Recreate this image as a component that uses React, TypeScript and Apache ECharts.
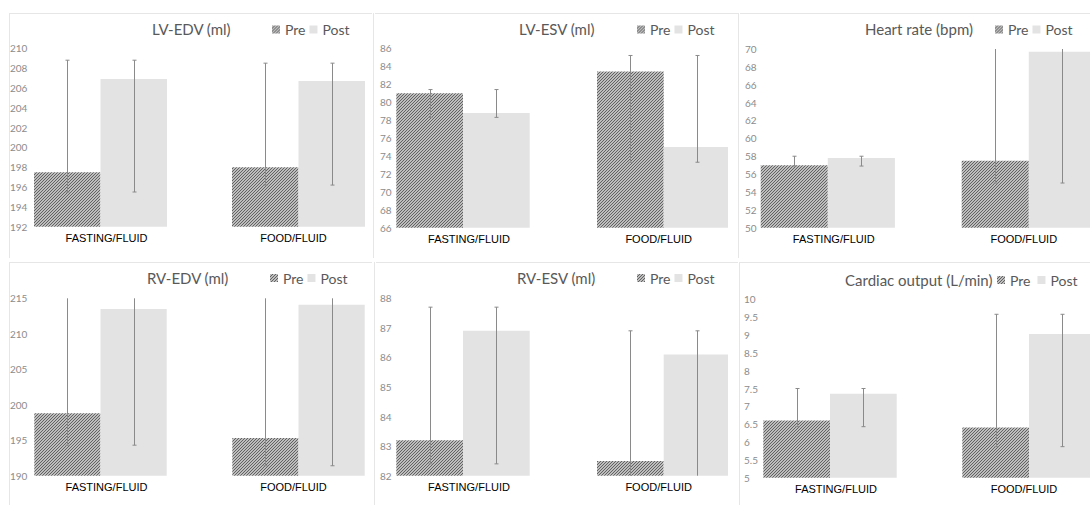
import React, { useEffect, useRef } from 'react';
import * as echarts from 'echarts';

// ---------- data ----------
const categories = ['FASTING/FLUID', 'FOOD/FLUID'];
const seriesNames = ['Pre', 'Post'];

const lvEdvTitle = 'LV-EDV (ml)';
const lvEdvAxis = [192, 210, 2];
const lvEdvPre = [197.5, 198.0];
const lvEdvPost = [206.9, 206.7];
const lvEdvPreErr = [[195.5, 208.8], [196.2, 208.5]];
const lvEdvPostErr = [[195.5, 208.8], [196.2, 208.5]];

const lvEsvTitle = 'LV-ESV (ml)';
const lvEsvAxis = [66, 86, 2];
const lvEsvPre = [81.0, 83.4];
const lvEsvPost = [78.8, 75.0];
const lvEsvPreErr = [[78.3, 81.4], [73.3, 85.2]];
const lvEsvPostErr = [[78.3, 81.4], [73.3, 85.2]];

const hrTitle = 'Heart rate (bpm)';
const hrAxis = [50, 70, 2];
const hrPre = [57.0, 57.5];
const hrPost = [57.8, 69.7];
const hrPreErr = [[56.9, 58.0], [55.0, 71.0]];
const hrPostErr = [[56.9, 58.0], [55.0, 71.0]];

const rvEdvTitle = 'RV-EDV (ml)';
const rvEdvAxis = [190, 215, 5];
const rvEdvPre = [198.8, 195.3];
const rvEdvPost = [213.5, 214.1];
const rvEdvPreErr = [[194.3, 216.0], [191.4, 216.0]];
const rvEdvPostErr = [[194.3, 216.0], [191.4, 216.0]];

const rvEsvTitle = 'RV-ESV (ml)';
const rvEsvAxis = [82, 88, 1];
const rvEsvPre = [83.2, 82.5];
const rvEsvPost = [86.9, 86.1];
const rvEsvPreErr = [[82.4, 87.7], [81.5, 86.9]];
const rvEsvPostErr = [[82.4, 87.7], [81.5, 86.9]];

const coTitle = 'Cardiac output (L/min)';
const coAxis = [5, 10, 0.5];
const coPre = [6.6, 6.41];
const coPost = [7.35, 9.03];
const coPreErr = [[6.43, 7.5], [5.87, 9.58]];
const coPostErr = [[6.43, 7.5], [5.87, 9.58]];

// ---------- layout (absolute page px) ----------
type Layout = {
  clip: { x: number; y: number; w: number; h: number };
  firstBar: number; spacing: number; bw: number;
  axisTop: number; axisBottom: number; labelX: number;
  titleX: number; titleCY: number; legendX: number; legendPostX: number; legendCY: number;
};

const layouts: Layout[] = [
  { clip: { x: 10, y: 14, w: 356, h: 244 }, firstBar: 34, spacing: 198, bw: 66.5, axisTop: 48.3, axisBottom: 226.7, labelX: 10, titleX: 152, titleCY: 30.7, legendX: 272, legendPostX: 312, legendCY: 30.5 },
  { clip: { x: 374, y: 14, w: 354, h: 244 }, firstBar: 396.3, spacing: 200.7, bw: 66.7, axisTop: 48.3, axisBottom: 227.7, labelX: 380, titleX: 519, titleCY: 30.7, legendX: 637, legendPostX: 677, legendCY: 30.5 },
  { clip: { x: 739, y: 14, w: 351, h: 244 }, firstBar: 760.7, spacing: 201, bw: 67.1, axisTop: 49, axisBottom: 227.7, labelX: 745, titleX: 865, titleCY: 30.5, legendX: 995, legendPostX: 1035, legendCY: 30.5 },
  { clip: { x: 10, y: 263, w: 356, h: 242 }, firstBar: 34.3, spacing: 198, bw: 66.2, axisTop: 298.3, axisBottom: 475.7, labelX: 10, titleX: 147, titleCY: 279, legendX: 270, legendPostX: 310, legendCY: 279 },
  { clip: { x: 374, y: 263, w: 354, h: 242 }, firstBar: 396.3, spacing: 200.7, bw: 66.7, axisTop: 298.3, axisBottom: 475.7, labelX: 380, titleX: 517, titleCY: 279, legendX: 637, legendPostX: 677, legendCY: 279 },
  { clip: { x: 739, y: 263, w: 351, h: 242 }, firstBar: 763.3, spacing: 199, bw: 66.7, axisTop: 299.3, axisBottom: 477.7, labelX: 744, titleX: 845, titleCY: 281, legendX: 997, legendPostX: 1040, legendCY: 281 },
];

type Spec = { title: string; axis: number[]; pre: number[]; post: number[]; preErr: number[][]; postErr: number[][] };

const specs: Spec[] = [
  { title: lvEdvTitle, axis: lvEdvAxis, pre: lvEdvPre, post: lvEdvPost, preErr: lvEdvPreErr, postErr: lvEdvPostErr },
  { title: lvEsvTitle, axis: lvEsvAxis, pre: lvEsvPre, post: lvEsvPost, preErr: lvEsvPreErr, postErr: lvEsvPostErr },
  { title: hrTitle, axis: hrAxis, pre: hrPre, post: hrPost, preErr: hrPreErr, postErr: hrPostErr },
  { title: rvEdvTitle, axis: rvEdvAxis, pre: rvEdvPre, post: rvEdvPost, preErr: rvEdvPreErr, postErr: rvEdvPostErr },
  { title: rvEsvTitle, axis: rvEsvAxis, pre: rvEsvPre, post: rvEsvPost, preErr: rvEsvPreErr, postErr: rvEsvPostErr },
  { title: coTitle, axis: coAxis, pre: coPre, post: coPost, preErr: coPreErr, postErr: coPostErr },
];

const CHART_SHIFT = 40;
const CHART_W = 480;

function makeHatch(): HTMLCanvasElement {
  const c = document.createElement('canvas');
  c.width = 3;
  c.height = 3;
  const ctx = c.getContext('2d')!;
  ctx.fillStyle = '#bdbdbd';
  ctx.fillRect(0, 0, 3, 3);
  ctx.fillStyle = '#626262';
  for (let i = 0; i < 3; i++) ctx.fillRect(2 - i, i, 1, 1);
  return c;
}

const catFont = { fontFamily: 'Liberation Sans', fontSize: 11, color: '#000000' };

function Panel({ spec, layout }: { spec: Spec; layout: Layout }) {
  const ref = useRef<HTMLDivElement>(null);
  useEffect(() => {
    if (!ref.current) return;
    const chart = echarts.init(ref.current, undefined, { renderer: 'svg' });
    const ox = layout.clip.x - CHART_SHIFT;
    const oy = layout.clip.y;
    const [min, max, interval] = spec.axis;
    const bw = layout.bw;
    const gridLeftAbs = layout.firstBar + bw - layout.spacing / 2;
    const hatch = makeHatch();
    const errData: number[][] = [];
    spec.preErr.forEach((e, i) => errData.push([i, e[0], e[1], -1]));
    spec.postErr.forEach((e, i) => errData.push([i, e[0], e[1], 1]));
    const titleFs = 15;
    const legendFs = 14;
    const option: any = {
      animation: false,
      title: {
        text: spec.title,
        left: layout.titleX - ox,
        top: layout.titleCY - oy - titleFs * 0.6,
        padding: 0,
        textStyle: { fontFamily: 'Lato', fontSize: titleFs, fontWeight: 'normal', color: '#595959' },
      },
      legend: {
        data: seriesNames,
        left: layout.legendX - ox,
        top: layout.legendCY - oy - 8,
        padding: 0,
        icon: 'rect',
        itemWidth: 8,
        itemHeight: 8,
        itemGap: Math.max(0, layout.legendPostX - layout.legendX - 13 - 23),
        selectedMode: false,
        textStyle: { fontFamily: 'Lato', fontSize: legendFs, color: '#595959' },
      },
      grid: {
        left: gridLeftAbs - ox,
        top: layout.axisTop - oy,
        width: layout.spacing * 2,
        height: layout.axisBottom - layout.axisTop,
        containLabel: false,
      },
      xAxis: {
        type: 'category',
        data: categories,
        axisLine: { show: false },
        axisTick: { show: false },
        splitLine: { show: false },
        axisLabel: {
          margin: 6,
          ...catFont,
          formatter: (v: string, i: number) => (i === 0 ? '{a|' + v + '}' : '{b|' + v + '}'),
          rich: {
            a: { ...catFont, padding: [0, 0, 0, 12] },
            b: { ...catFont, padding: [0, 10, 0, 0] },
          },
        },
      },
      yAxis: {
        type: 'value',
        min,
        max,
        interval,
        axisLine: { show: false },
        axisTick: { show: false },
        splitLine: { show: false },
        axisLabel: { inside: true, margin: layout.labelX - gridLeftAbs, fontFamily: 'Lato', fontSize: 10, color: '#8c8c8c' },
      },
      series: [
        { name: seriesNames[0], type: 'bar', data: spec.pre, barWidth: bw, barGap: '0%', itemStyle: { color: { image: hatch, repeat: 'repeat' } } },
        { name: seriesNames[1], type: 'bar', data: spec.post, barWidth: bw, barGap: '0%', itemStyle: { color: '#e3e3e3' } },
        {
          type: 'custom',
          z: 5,
          silent: true,
          encode: { x: 0, y: [1, 2] },
          data: errData,
          renderItem: (params: any, api: any) => {
            const cat = api.value(0);
            const lo = api.value(1);
            const hi = api.value(2);
            const side = api.value(3);
            const loC = Math.max(lo, min);
            const hiC = Math.min(hi, max);
            const x = Math.round(api.coord([cat, min])[0] + (side * bw) / 2) + 0.5;
            const yLo = api.coord([cat, loC])[1];
            const yHi = api.coord([cat, hiC])[1];
            const st = { stroke: '#8a8a8a', lineWidth: 1 };
            const children: any[] = [{ type: 'line', shape: { x1: x, y1: yLo, x2: x, y2: yHi }, style: st }];
            if (hi <= max) children.push({ type: 'line', shape: { x1: x - 2, y1: yHi, x2: x + 2, y2: yHi }, style: st });
            if (lo >= min) children.push({ type: 'line', shape: { x1: x - 2, y1: yLo, x2: x + 2, y2: yLo }, style: st });
            return { type: 'group', children };
          },
        },
      ],
    };
    chart.setOption(option);
    return () => chart.dispose();
  }, [spec, layout]);

  return (
    <div style={{ position: 'absolute', left: layout.clip.x, top: layout.clip.y, width: layout.clip.w, height: layout.clip.h, overflow: 'hidden' }}>
      <div ref={ref} style={{ position: 'absolute', left: -CHART_SHIFT, top: 0, width: CHART_W, height: layout.clip.h }} />
    </div>
  );
}

const frameColor = '#e6e6e6';
const hLines = [
  [9, 13, 363], [375, 13, 363], [740, 13, 350],
  [9, 262, 363], [376, 262, 362], [740, 262, 350],
];
const vLines = [
  [9, 13, 245], [373, 13, 245], [738, 13, 245],
  [9, 262, 243], [374, 262, 243], [739, 262, 243],
];

export default function App() {
  return (
    <div style={{ position: 'absolute', left: 0, top: 0, width: 1090, height: 505, background: '#ffffff', overflow: 'hidden' }}>
      {hLines.map((l, i) => (
        <div key={'h' + i} style={{ position: 'absolute', left: l[0], top: l[1], width: l[2], height: 1, background: frameColor }} />
      ))}
      {vLines.map((l, i) => (
        <div key={'v' + i} style={{ position: 'absolute', left: l[0], top: l[1], width: 1, height: l[2], background: frameColor }} />
      ))}
      {specs.map((s, i) => (
        <Panel key={i} spec={s} layout={layouts[i]} />
      ))}
    </div>
  );
}
